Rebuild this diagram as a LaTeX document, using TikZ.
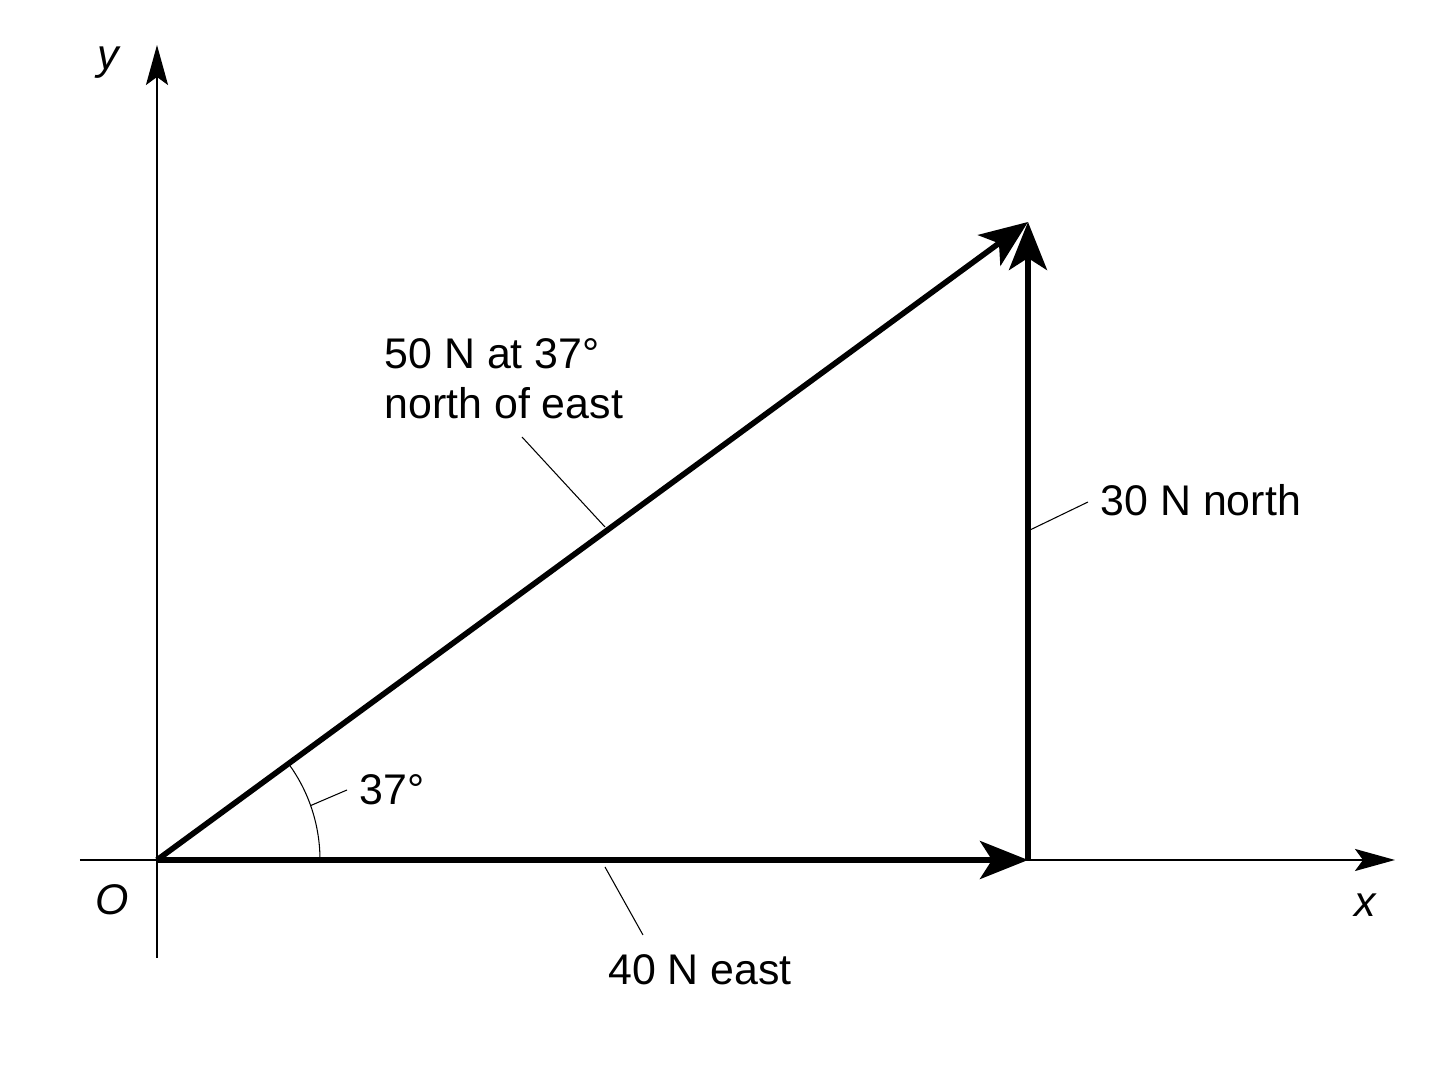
\documentclass[tikz,border=0pt]{standalone}
\usepackage{fontspec}
\setmainfont{Liberation Sans}
\usetikzlibrary{arrows.meta}

\begin{document}
\begin{tikzpicture}[
    font=\fontsize{12.2}{14.2}\selectfont,
    axis/.style={line width=0.65pt,-{Stealth[length=4mm,width=2.2mm,inset=0.8mm]}},
    vec/.style={line width=1.6pt,-{Stealth[length=4.8mm,width=3.8mm,inset=1.2mm]}},
    leader/.style={line width=0.3pt},
    lbl/.style={inner sep=0pt,align=left}]
  \useasboundingbox (-1.57,-2.26) rectangle (12.91,8.60);

  %% Axes
  \coordinate (O) at (0,0);
  \draw [axis] (-0.77,0) -- (12.38,0) coordinate (xend);
  \draw [axis] (0,-0.98) -- (0,8.15) coordinate (yend);
  \node (xlbl) at (12.08,-0.45) {\itshape x};
  \node (ylbl) at (-0.49,7.97) {\itshape y};
  \node (olbl) at (-0.45,-0.40) {\itshape O};

  %% Vectors
  \coordinate (E) at (8.71,0);
  \coordinate (T) at (8.71,6.38);
  \draw [vec] (O) -- (E);
  \draw [vec] (E) -- (T);
  \draw [vec] (O) -- (T);

  %% Angle
  \draw [leader] (1.63,0) arc (0:36.2:1.63);
  \coordinate (arcpt) at (19.5:1.63);
  \node [lbl,anchor=west] (anglbl) at (2.02,0.70) {37°};
  \draw [leader] (arcpt) -- (1.90,0.70);

  %% Labels
  \node [lbl,anchor=west] (reslbl) at (2.27,4.81) {50 N at 37°\\north of east};
  \coordinate (respt) at (4.48,3.33);
  \draw [leader] (respt) -- (3.65,4.23);

  \node [lbl,anchor=west] (northlbl) at (9.43,3.60) {30 N north};
  \coordinate (northpt) at (8.73,3.30);
  \draw [leader] (northpt) -- (9.31,3.58);

  \node [lbl] (eastlbl) at (5.43,-1.10) {40 N east};
  \coordinate (eastpt) at (4.48,-0.07);
  \draw [leader] (eastpt) -- (4.86,-0.75);
\end{tikzpicture}
\end{document}
